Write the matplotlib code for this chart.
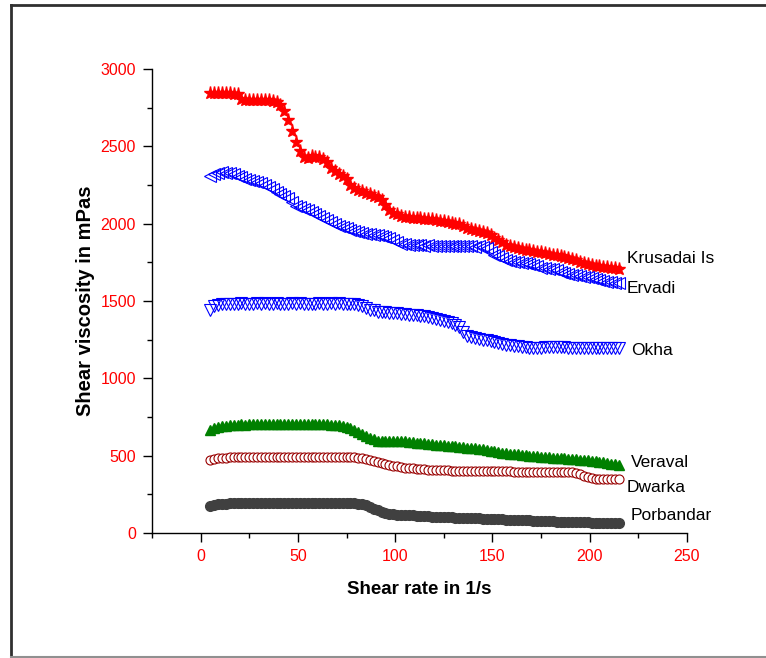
import numpy as np
import matplotlib
matplotlib.use("Agg")
import matplotlib.pyplot as plt
from matplotlib.lines import Line2D
from matplotlib.ticker import MultipleLocator

plt.rcParams['font.family'] = ['Liberation Sans', 'DejaVu Sans']

# shear rate sweep (1/s)
shear_rate = np.arange(5, 216, 2)

krusadai = [2848, 2845, 2842, 2846, 2843, 2845, 2841, 2838, 2805, 2800,
            2798, 2802, 2799, 2800, 2797, 2800, 2795, 2785, 2770, 2730,
            2670, 2600, 2525, 2470, 2430, 2425, 2435, 2430, 2428, 2420,
            2400, 2360, 2340, 2320, 2305, 2290, 2250, 2230, 2220, 2210,
            2200, 2190, 2180, 2170, 2150, 2120, 2090, 2070, 2060, 2050,
            2045, 2040, 2038, 2036, 2035, 2033, 2030, 2028, 2025, 2020,
            2015, 2010, 2005, 2000, 1995, 1985, 1975, 1968, 1960, 1955,
            1948, 1940, 1925, 1910, 1895, 1880, 1865, 1855, 1848, 1842,
            1838, 1832, 1828, 1825, 1820, 1815, 1810, 1805, 1800, 1795,
            1790, 1785, 1780, 1772, 1765, 1755, 1745, 1738, 1733, 1728,
            1724, 1720, 1717, 1714, 1712, 1710]

ervadi = [2310, 2320, 2330, 2334, 2330, 2327, 2318, 2305, 2300, 2290,
          2282, 2275, 2268, 2260, 2250, 2240, 2225, 2205, 2195, 2180,
          2165, 2140, 2115, 2105, 2095, 2088, 2075, 2060, 2050, 2035,
          2025, 2010, 1995, 1985, 1978, 1970, 1960, 1950, 1945, 1940,
          1935, 1930, 1928, 1925, 1920, 1915, 1905, 1895, 1880, 1870,
          1866, 1864, 1862, 1860, 1860, 1858, 1860, 1858, 1856, 1858,
          1856, 1855, 1856, 1855, 1854, 1855, 1853, 1855, 1852, 1854,
          1850, 1840, 1815, 1800, 1790, 1775, 1765, 1758, 1752, 1750,
          1748, 1745, 1740, 1735, 1725, 1715, 1712, 1710, 1705, 1700,
          1690, 1680, 1672, 1668, 1665, 1660, 1658, 1655, 1650, 1645,
          1638, 1630, 1625, 1620, 1618, 1616]

okha = [1445, 1465, 1475, 1480, 1482, 1480, 1483, 1481, 1484, 1482,
        1480, 1483, 1485, 1482, 1484, 1481, 1483, 1485, 1482, 1480,
        1483, 1485, 1482, 1484, 1481, 1483, 1480, 1482, 1484, 1481,
        1483, 1485, 1482, 1484, 1482, 1480, 1481, 1478, 1475, 1465,
        1455, 1445, 1440, 1432, 1430, 1428, 1425, 1423, 1420, 1418,
        1415, 1412, 1410, 1408, 1405, 1400, 1397, 1392, 1385, 1380,
        1372, 1365, 1360, 1345, 1330, 1300, 1275, 1265, 1258, 1252,
        1248, 1245, 1240, 1235, 1228, 1222, 1218, 1214, 1210, 1206,
        1203, 1200, 1198, 1196, 1195, 1196, 1200, 1204, 1205, 1203,
        1202, 1200, 1199, 1198, 1199, 1198, 1197, 1198, 1199, 1198,
        1197, 1198, 1199, 1198, 1197, 1198]

veraval = [665, 678, 688, 692, 695, 697, 698, 700, 702, 701,
           703, 702, 704, 703, 705, 704, 706, 705, 707, 706,
           705, 707, 706, 705, 704, 706, 705, 703, 704, 702,
           703, 701, 700, 698, 695, 688, 680, 668, 655, 640,
           628, 615, 605, 598, 595, 593, 595, 598, 597, 595,
           592, 590, 588, 585, 582, 580, 578, 575, 572, 570,
           567, 565, 563, 560, 557, 555, 552, 550, 547, 543,
           540, 536, 532, 528, 524, 520, 517, 514, 511, 508,
           505, 503, 500, 498, 496, 494, 492, 490, 488, 486,
           484, 482, 480, 478, 476, 474, 472, 470, 468, 465,
           462, 458, 452, 447, 443, 440]

dwarka = [472, 476, 482, 486, 488, 489, 490, 491, 490, 491,
          490, 491, 492, 491, 490, 491, 492, 491, 490, 491,
          492, 491, 490, 491, 492, 491, 490, 491, 492, 491,
          490, 491, 492, 491, 490, 491, 490, 489, 488, 485,
          480, 472, 465, 458, 452, 446, 440, 435, 430, 426,
          423, 420, 418, 416, 414, 412, 410, 409, 408, 407,
          406, 405, 404, 403, 402, 402, 401, 401, 400, 400,
          400, 399, 399, 399, 398, 398, 398, 398, 397, 397,
          397, 397, 397, 396, 396, 396, 396, 396, 396, 396,
          396, 396, 396, 394, 390, 380, 368, 360, 355, 352,
          350, 349, 349, 350, 349, 349]

porbandar = [175, 182, 186, 188, 190, 191, 192, 193, 192, 193,
             194, 193, 192, 193, 194, 193, 192, 193, 194, 193,
             192, 193, 194, 193, 192, 193, 194, 193, 192, 193,
             194, 193, 192, 193, 194, 193, 192, 191, 190, 185,
             178, 168, 158, 148, 138, 130, 124, 120, 117, 116,
             115, 115, 114, 113, 112, 110, 108, 106, 105, 104,
             103, 102, 101, 100, 99, 98, 97, 96, 95, 94,
             93, 92, 91, 90, 89, 88, 87, 86, 85, 84,
             83, 82, 81, 80, 79, 78, 77, 76, 75, 74,
             73, 72, 71, 70, 70, 69, 68, 68, 67, 67,
             66, 66, 65, 65, 65, 64]

names = ["Krusadai Is", "Ervadi", "Okha", "Veraval", "Dwarka", "Porbandar"]
label_x = [219, 219, 221.5, 221, 219, 221]
label_y = [1778, 1584, 1177, 459, 297, 110]

fig = plt.figure(figsize=(7.66, 6.58), dpi=100)
ax = fig.add_axes([152/766, 1 - 533/658, 535/766, 464/658])

ax.plot(shear_rate, krusadai, ls='none', marker='*', ms=9.5, color='#ff0000', mec='#ff0000')
ax.plot(shear_rate, ervadi, ls='none', marker='<', ms=8, mfc='none', mec='#0000ff', mew=0.8)
ax.plot(shear_rate, okha, ls='none', marker='v', ms=8, mfc='none', mec='#0000ff', mew=0.8)
ax.plot(shear_rate, veraval, ls='none', marker='^', ms=7.5, color='#008000')
ax.plot(shear_rate, dwarka, ls='none', marker='o', ms=6.5, mfc='white', mec='#990000', mew=0.8)
ax.plot(shear_rate, porbandar, ls='none', marker='o', ms=7, color='#404040')

for n, tx, ty in zip(names, label_x, label_y):
    ax.text(tx, ty, n, fontsize=12.5, ha='left', va='center', clip_on=False)

ax.set_xlim(-25, 250)
ax.set_ylim(0, 3000)
ax.xaxis.set_major_locator(MultipleLocator(50))
ax.xaxis.set_minor_locator(MultipleLocator(25))
ax.yaxis.set_major_locator(MultipleLocator(500))
ax.yaxis.set_minor_locator(MultipleLocator(250))

for s in ['top', 'right']:
    ax.spines[s].set_visible(False)
for s in ['left', 'bottom']:
    ax.spines[s].set_linewidth(1.0)

ax.tick_params(which='major', direction='out', length=6.5, width=1.0,
               labelsize=11.5, labelcolor='#ff0000', pad=5)
ax.tick_params(which='minor', direction='out', length=3.5, width=1.0)

ax.set_xlabel("Shear rate in 1/s", fontsize=13.5, fontweight='bold', labelpad=12)
ax.set_ylabel("Shear viscosity in mPas", fontsize=14.5, fontweight='bold', labelpad=4)

# outer frame around the figure
top = 1 - 4.5/658
left = 10.5/766
fig.add_artist(Line2D([left, 1.0], [top, top], transform=fig.transFigure, color='#303030', lw=2))
fig.add_artist(Line2D([left, left], [top, 1 - 657/658], transform=fig.transFigure, color='#303030', lw=2))
fig.add_artist(Line2D([left, 1.0], [1 - 657/658, 1 - 657/658], transform=fig.transFigure, color='#909090', lw=1.5))

fig.savefig("out.png", dpi=100)
